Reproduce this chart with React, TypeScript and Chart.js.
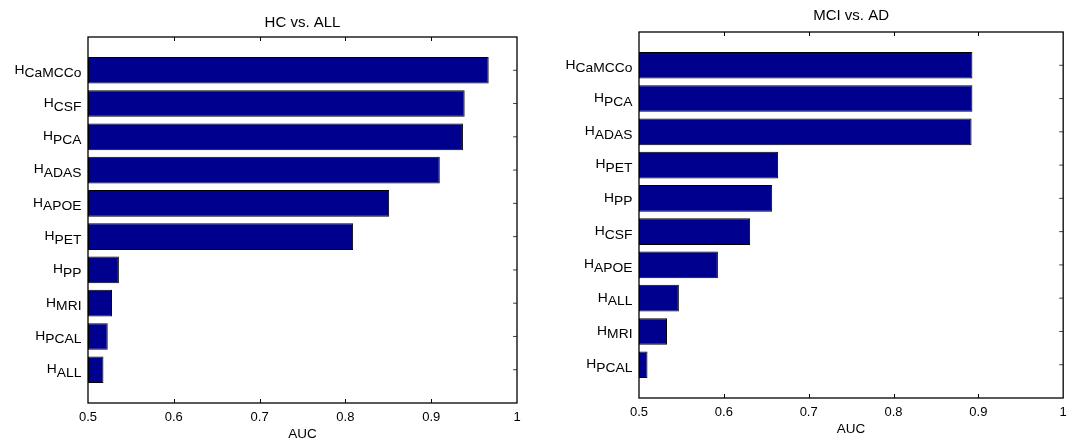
import React, { useEffect, useRef } from 'react';
import { Chart, registerables } from 'chart.js';

Chart.register(...registerables);

// ---------- data ----------
const leftTitle = 'HC vs. ALL';
const leftNames = ['CaMCCo', 'CSF', 'PCA', 'ADAS', 'APOE', 'PET', 'PP', 'MRI', 'PCAL', 'ALL'];
const leftAUC = [0.967, 0.939, 0.937, 0.910, 0.851, 0.809, 0.536, 0.528, 0.523, 0.518];

const rightTitle = 'MCI vs. AD';
const rightNames = ['CaMCCo', 'PCA', 'ADAS', 'PET', 'PP', 'CSF', 'APOE', 'ALL', 'MRI', 'PCAL'];
const rightAUC = [0.893, 0.893, 0.892, 0.664, 0.657, 0.631, 0.593, 0.547, 0.533, 0.510];

const xTickValues = [0.5, 0.6, 0.7, 0.8, 0.9, 1];
const xTickLabels = ['0.5', '0.6', '0.7', '0.8', '0.9', '1'];
const xAxisTitle = 'AUC';
const labelPrefix = 'H';
const xMin = 0.5;
const xMax = 1;

// ---------- styles ----------
const FONT = '"Liberation Sans", Arial, Helvetica, sans-serif';
const BAR_COLOR = 'rgb(0,0,142)';

type Box = {
  left: number;
  width: number;
  height: number;
  yWidth: number;
  padRight: number;
  padBottom: number;
  titleTop: number;
  titleBottom: number;
};

const framePlugin = {
  id: 'matlabFrame',
  beforeDatasetsDraw(chart: any) {
    const { ctx, chartArea, scales } = chart;
    const { left } = chartArea;
    const y = scales.y;
    const n = (chart.data.labels as string[]).length;
    ctx.save();
    ctx.strokeStyle = '#000';
    ctx.lineWidth = 1;
    for (let i = 1; i < n - 1; i++) {
      const py = y.getPixelForValue(i);
      ctx.beginPath();
      ctx.moveTo(left, py);
      ctx.lineTo(left + 4, py);
      ctx.stroke();
    }
    ctx.restore();
  },
  afterDatasetsDraw(chart: any) {
    const { ctx, chartArea, scales } = chart;
    const { left, right, top, bottom } = chartArea;
    const x = scales.x;
    const y = scales.y;
    const labels = chart.data.labels as string[];
    const n = labels.length;
    ctx.save();
    ctx.strokeStyle = '#000';
    ctx.lineWidth = 1;
    // x ticks (inward, top and bottom)
    xTickValues.forEach((v) => {
      if (v <= xMin || v >= xMax) return;
      const px = Math.round(x.getPixelForValue(v)) + 0.5;
      ctx.beginPath();
      ctx.moveTo(px, bottom);
      ctx.lineTo(px, bottom - 4);
      ctx.moveTo(px, top);
      ctx.lineTo(px, top + 4);
      ctx.stroke();
    });
    // y ticks on the right side (inward)
    ctx.strokeStyle = '#444';
    for (let i = 1; i < n - 1; i++) {
      const py = y.getPixelForValue(i);
      ctx.beginPath();
      ctx.moveTo(right, py);
      ctx.lineTo(right - 4, py);
      ctx.stroke();
    }
    // frame
    ctx.strokeStyle = '#000';
    ctx.lineWidth = 1.3;
    ctx.strokeRect(left, top, right - left, bottom - top);
    ctx.restore();

    // category labels: H with subscript
    ctx.save();
    ctx.fillStyle = '#000';
    ctx.textAlign = 'left';
    ctx.textBaseline = 'alphabetic';
    const sx = 1.05;
    for (let i = 1; i < n - 1; i++) {
      const name = labels[i];
      const py = y.getPixelForValue(i);
      ctx.save();
      ctx.translate(left - 6.5, py);
      ctx.scale(sx, 1);
      ctx.font = `13.2px ${FONT}`;
      const subW = ctx.measureText(name).width;
      const hW = ctx.measureText(labelPrefix).width;
      ctx.fillText(labelPrefix, -(subW + hW), 3.4);
      ctx.fillText(name, -subW, 7);
      ctx.restore();
    }
    ctx.restore();
  },
};

function Panel({ title, names, values, box }: { title: string; names: string[]; values: number[]; box: Box }) {
  const ref = useRef<HTMLCanvasElement>(null);
  useEffect(() => {
    const labels = ['', ...names, ''];
    const data = [null, ...values, null];
    const chart = new Chart(ref.current as HTMLCanvasElement, {
      type: 'bar',
      data: {
        labels,
        datasets: [
          {
            data: data as any,
            base: xMin,
            backgroundColor: BAR_COLOR,
            borderColor: '#000',
            borderWidth: 1,
            borderSkipped: false,
            barPercentage: 0.8,
            categoryPercentage: 1,
          } as any,
        ],
      },
      options: {
        indexAxis: 'y',
        responsive: false,
        animation: false,
        layout: { padding: { left: 0, right: box.padRight, top: 0, bottom: box.padBottom } },
        plugins: {
          legend: { display: false },
          tooltip: { enabled: false },
          title: {
            display: true,
            text: title,
            color: '#000',
            fullSize: false,
            font: { family: FONT, size: 15, weight: 'normal', lineHeight: 1.2 },
            padding: { top: box.titleTop, bottom: box.titleBottom },
          },
        },
        scales: {
          x: {
            type: 'linear',
            position: 'bottom',
            min: xMin,
            max: xMax,
            grid: { display: false, drawTicks: false },
            border: { display: false },
            afterBuildTicks: (s: any) => {
              s.ticks = xTickValues.map((v) => ({ value: v }));
            },
            afterFit: (s: any) => {
              s.height = 38;
            },
            ticks: {
              autoSkip: false,
              maxRotation: 0,
              color: '#000',
              padding: 6.2,
              font: { family: FONT, size: 13, lineHeight: 1.2 },
              callback: (_v: any, i: number) => xTickLabels[i],
            },
            title: {
              display: true,
              text: xAxisTitle,
              color: '#000',
              font: { family: FONT, size: 13.5, lineHeight: 1 },
              padding: { top: 0, bottom: 0 },
            },
          },
          y: {
            type: 'category',
            offset: false,
            grid: { display: false, drawTicks: false },
            border: { display: false },
            ticks: { display: false },
            afterFit: (s: any) => {
              s.width = box.yWidth;
            },
          },
        },
      } as any,
      plugins: [framePlugin],
    });
    return () => chart.destroy();
  }, []);
  return (
    <canvas
      ref={ref}
      width={box.width}
      height={box.height}
      style={{ position: 'absolute', left: box.left, top: 0, width: box.width, height: box.height }}
    />
  );
}

const leftBox: Box = { left: 0, width: 536, height: 441, yWidth: 88, padRight: 19, padBottom: 0, titleTop: 14, titleBottom: 5 };
const rightBox: Box = { left: 536, width: 537, height: 441, yWidth: 103, padRight: 5, padBottom: 5, titleTop: 7, titleBottom: 7 };

export default function App() {
  return (
    <div style={{ position: 'fixed', left: 0, top: 0, width: 1073, height: 441, background: '#fff' }}>
      <Panel title={leftTitle} names={leftNames} values={leftAUC} box={leftBox} />
      <Panel title={rightTitle} names={rightNames} values={rightAUC} box={rightBox} />
    </div>
  );
}
